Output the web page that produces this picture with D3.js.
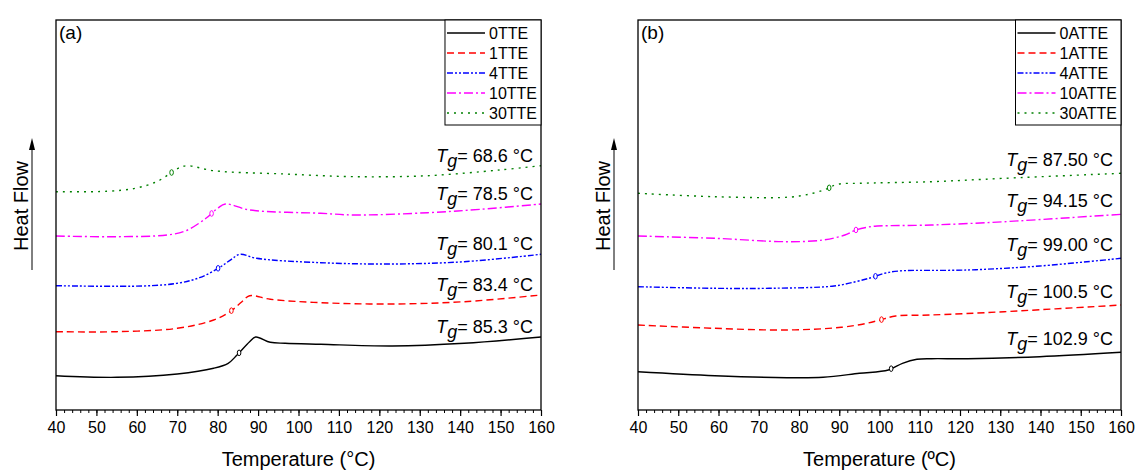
<!DOCTYPE html>
<html lang="en">
<head>
<meta charset="UTF-8">
<title>DSC Tg curves</title>
<script src="https://cdn.jsdelivr.net/npm/d3@7"></script>
<style>
body{margin:0;background:#fff;}
text{font-family:"Liberation Sans",Arial,sans-serif;fill:#000;}
</style>
</head>
<body>
<script>
// x axis ticks
var tempTicks = d3.range(40, 161, 10);
var minorTicks = d3.range(40, 161, 2);

// panel (a)
var namesA = ["0TTE", "1TTE", "4TTE", "10TTE", "30TTE"];
var tgA = [85.3, 83.4, 80.1, 78.5, 68.6];
var tgTextA = ["85.3", "83.4", "80.1", "78.5", "68.6"];
// [temperature, heat flow (arb.)]
var a0 = [[40,3.43],[55,3.27],[70,3.6],[79,4.17],[82.6,4.67],[84.8,5.5],[87.9,6.83],[89.4,7.3],[93,6.77],[96.7,6.67],[105.5,6.57],[123.2,6.4],[141,6.67],[160,7.3]];
var a1 = [[40,7.83],[55,7.83],[70,8.17],[79,9.0],[83.3,9.9],[86,10.83],[87.9,11.43],[93,11.07],[105.5,10.73],[123,10.6],[141,10.83],[160,11.5]];
var a4 = [[40,12.43],[61.4,12.4],[70,12.67],[75.5,13.23],[80.4,14.23],[83.4,15.07],[85.5,15.57],[89.6,15.17],[105.5,14.73],[123,14.6],[141,14.83],[160,15.57]];
var a10 = [[40,17.4],[55,17.33],[67.5,17.5],[72,17.9],[77.1,19.17],[80,20.17],[81.9,20.6],[87.9,20.0],[105.5,19.67],[114,19.5],[132,19.73],[145,20.07],[160,20.6]];
var a30 = [[40,21.83],[52.5,21.87],[59.6,22.17],[64.9,22.83],[68.3,23.67],[70.2,24.17],[72.4,24.43],[79,23.93],[96.7,23.6],[114,23.33],[132,23.43],[149.7,24.0],[160,24.43]];

// panel (b)
var namesB = ["0ATTE", "1ATTE", "4ATTE", "10ATTE", "30ATTE"];
var tgB = [102.9, 100.5, 99.0, 94.15, 87.5];
var tgTextB = ["102.9", "100.5", "99.00", "94.15", "87.50"];
var b0 = [[40,3.83],[59.1,3.43],[77,3.23],[86,3.27],[95,3.67],[102.2,4.0],[105.7,4.67],[109.3,5.07],[112.9,5.13],[121.9,5.13],[139.8,5.33],[160,5.77]];
var b1 = [[40,8.5],[59,8.17],[77,8.0],[90.5,8.27],[96.8,8.67],[100.1,9.0],[104,9.4],[112.9,9.5],[131,9.83],[160,10.5]];
var b4 = [[40,12.33],[59,12.17],[72.6,12.17],[88.7,12.4],[94.1,12.83],[97.9,13.23],[101.3,13.67],[104.8,13.9],[121.9,14.0],[139.8,14.4],[160,15.17]];
var b10 = [[40,17.4],[59,17.17],[77,16.83],[86,17.0],[91.4,17.5],[94.1,18.0],[97.7,18.33],[99.5,18.4],[112.9,18.5],[131,18.83],[160,19.57]];
var b30 = [[40,21.67],[59,21.33],[77,21.27],[81.5,21.5],[86.2,22.0],[89.6,22.57],[95,22.67],[112.9,22.83],[131,23.17],[160,23.67]];

var colors = ["#000000", "#ff0000", "#0000ff", "#ff00ff", "#008000"];
var dashes = [null, "7,4", "6,2,2,2,2,2", "9,3,2,3", "2,5"];

var width = 1136, height = 471;
var plotTop = 20, plotBottom = 410;
var svg = d3.select("body").append("svg").attr("width", width).attr("height", height);

var panels = [
	{left:56, right:541, tag:"(a)", names:namesA, tg:tgA, tgText:tgTextA, series:[a0,a1,a4,a10,a30], title:"Temperature (\u00B0C)", lblOff:4},
	{left:638, right:1121, tag:"(b)", names:namesB, tg:tgB, tgText:tgTextB, series:[b0,b1,b4,b10,b30], title:"Temperature (\u00BAC)", lblOff:7}
];

panels.forEach(function(p){
	var x = d3.scaleLinear().domain([40,160]).range([p.left, p.right]);
	var y = d3.scaleLinear().domain([0,39]).range([plotBottom, plotTop]);
	var g = svg.append("g");

	// minor ticks
	g.append("g").attr("transform","translate(0,"+plotBottom+")")
		.call(d3.axisBottom(x).tickValues(minorTicks).tickSize(3).tickFormat(""))
		.call(function(s){ s.select(".domain").remove(); s.selectAll("line").attr("stroke-width",1); });
	// major ticks
	g.append("g").attr("transform","translate(0,"+plotBottom+")")
		.call(d3.axisBottom(x).tickValues(tempTicks).tickSize(6).tickPadding(6))
		.call(function(s){
			s.select(".domain").remove();
			s.selectAll("line").attr("stroke-width",1.2);
			s.selectAll("text").attr("font-size","16px").attr("font-family","'Liberation Sans',Arial,sans-serif").attr("fill","#000");
		});

	// curves
	var line = d3.line().x(function(d){return x(d[0]);}).y(function(d){return y(d[1]);}).curve(d3.curveCatmullRom.alpha(0.5));
	p.series.forEach(function(s, i){
		g.append("path").datum(s).attr("d", line).attr("fill","none")
			.attr("stroke", colors[i]).attr("stroke-width",1.4)
			.attr("stroke-dasharray", dashes[i]);
		// Tg marker
		var tv = p.tg[i];
		var k = d3.bisector(function(d){return d[0];}).left(s, tv);
		var p0 = s[Math.max(k-1,0)], p1 = s[Math.min(k, s.length-1)];
		var f = p1[0] === p0[0] ? 0 : (tv - p0[0])/(p1[0]-p0[0]);
		var vv = p0[1] + f*(p1[1]-p0[1]);
		g.append("ellipse").attr("cx", x(tv)).attr("cy", y(vv)).attr("rx",1.8).attr("ry",2.8)
			.attr("fill","#fff").attr("stroke", colors[i]).attr("stroke-width",1);
		// Tg label
		var last = s[s.length-1][1];
		var t = g.append("text").attr("x", p.right-8).attr("y", y(last)-p.lblOff)
			.attr("text-anchor","end").attr("font-size","18px");
		t.append("tspan").attr("font-style","italic").text("T");
		t.append("tspan").attr("font-style","italic").attr("dy",5).text("g");
		t.append("tspan").attr("dy",-5).text("= " + p.tgText[i] + " \u00B0C");
	});

	// frame
	g.append("rect").attr("x",p.left).attr("y",plotTop).attr("width",p.right-p.left).attr("height",plotBottom-plotTop)
		.attr("fill","none").attr("stroke","#000").attr("stroke-width",1.3);

	// panel tag
	g.append("text").attr("x",p.left+3).attr("y",plotTop+19).attr("font-size","19px").text(p.tag);

	// legend
	var lg = g.append("g");
	var items = lg.selectAll("g").data(p.names).enter().append("g");
	var txt = items.append("text").attr("font-size","16px").attr("y",function(d,i){return plotTop+13+i*20+6;}).text(function(d){return d;});
	var tw = d3.max(txt.nodes(), function(n){return n.getComputedTextLength();});
	var lw = 44 + tw + 4, lx = p.right - lw;
	lg.insert("rect",":first-child").attr("x",lx).attr("y",plotTop).attr("width",lw).attr("height",105)
		.attr("fill","#fff").attr("stroke","#000").attr("stroke-width",1);
	txt.attr("x", lx+44);
	items.append("line").attr("x1",lx+2).attr("x2",lx+40)
		.attr("y1",function(d,i){return plotTop+13+i*20;}).attr("y2",function(d,i){return plotTop+13+i*20;})
		.attr("stroke",function(d,i){return colors[i];}).attr("stroke-width",1.4)
		.attr("stroke-dasharray",function(d,i){return dashes[i];});

	// x title
	g.append("text").attr("x",(p.left+p.right)/2).attr("y",466).attr("text-anchor","middle")
		.attr("font-size","20px").text(p.title);

	// y title with arrow
	var ax = p.left - 24;
	g.append("line").attr("x1",ax).attr("x2",ax).attr("y1",270).attr("y2",146).attr("stroke","#000").attr("stroke-width",1);
	g.append("path").attr("d","M"+ax+",138L"+(ax-3)+",150L"+(ax+3)+",150Z").attr("fill","#000");
	g.append("text").attr("transform","translate("+(p.left-28)+",206) rotate(-90)")
		.attr("text-anchor","middle").attr("font-size","20px").text("Heat Flow");
});
</script>
</body>
</html>
